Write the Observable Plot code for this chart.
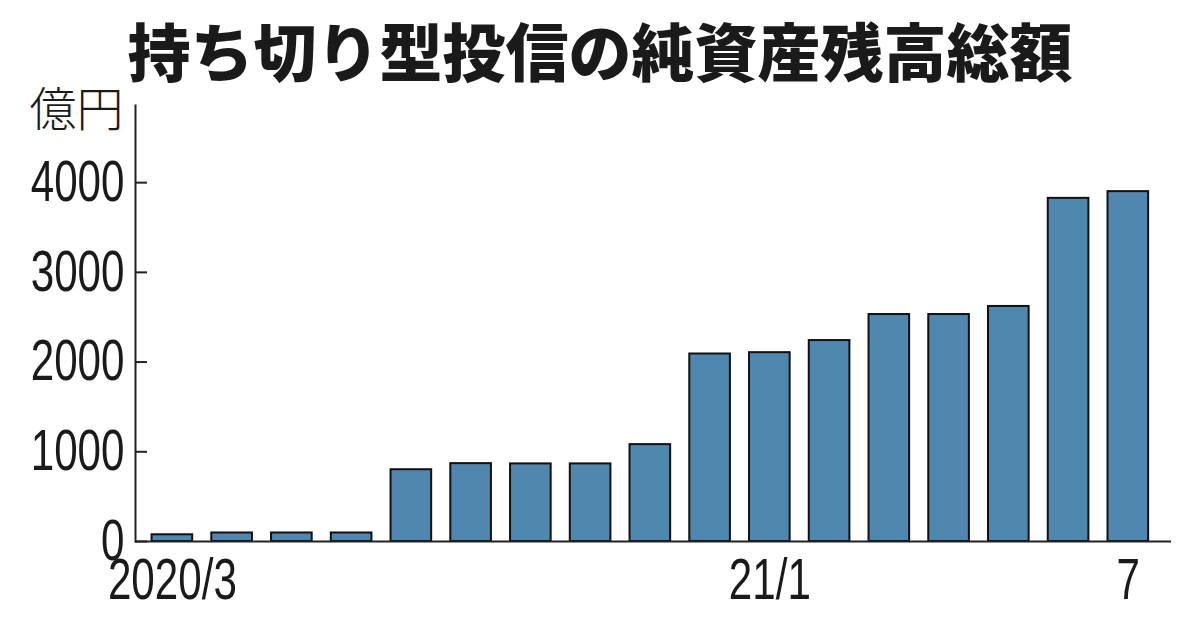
<!DOCTYPE html>
<html><head><meta charset="utf-8">
<script src="https://cdn.jsdelivr.net/npm/d3@7"></script>
<script src="https://cdn.jsdelivr.net/npm/@observablehq/plot@0.6"></script>
<style>
body{margin:0;background:#fff;width:1200px;height:630px;overflow:hidden;position:relative}
#title{position:absolute;left:0;top:17px;width:1200px;text-align:center;font-family:"Noto Sans CJK JP";font-weight:900;font-size:63px;line-height:63px;color:#1a1a1a;white-space:nowrap;z-index:2}
#chart{position:absolute;left:0;top:60px;z-index:1}
</style></head><body>
<div id="title"></div><div id="chart"></div>
<script>
const title = "持ち切り型投信の純資産残高総額";
const unit = "億円";
const months = ["2020-03","2020-04","2020-05","2020-06","2020-07","2020-08","2020-09","2020-10","2020-11","2020-12","2021-01","2021-02","2021-03","2021-04","2021-05","2021-06","2021-07"];
const values = [75, 95, 95, 95, 800, 868, 865, 865, 1080, 2090, 2105, 2240, 2530, 2530, 2620, 3825, 3900];
const yTicks = [0, 1000, 2000, 3000, 4000];
const xTickMonths = ["2020-03", "2021-01", "2021-07"];
const xTickLabels = ["2020/3", "21/1", "7"];

document.getElementById("title").textContent = title;
const data = months.map((m, i) => ({month: m, value: values[i]}));
const labelOf = new Map(xTickMonths.map((m, i) => [m, xTickLabels[i]]));
const numFont = '"Liberation Sans", Arimo, sans-serif';

const plot = Plot.plot({
  width: 1200, height: 570,
  marginLeft: 135, marginRight: 29, marginTop: 45, marginBottom: 89,
  style: {fontFamily: numFont, color: "#1a1a1a", background: "transparent"},
  x: {domain: months, paddingInner: 0.32, paddingOuter: 0.33, align: 0.42, round: false, label: null},
  y: {domain: [0, 4860], label: null},
  marks: [
    Plot.barY(data, {x: "month", y: "value", fill: "#4f87ae", stroke: "#111", strokeWidth: 2}),
    Plot.ruleY([0], {stroke: "#222", strokeWidth: 2}),
    Plot.frame({anchor: "left", stroke: "#222", strokeWidth: 2}),
    Plot.axisY({ticks: yTicks, tickSize: 12, dx: 12, text: null, stroke: "#222", strokeWidth: 2, label: null}),
    Plot.axisY({ticks: yTicks, tickSize: 0, tickPadding: 11, fontSize: 57, tickFormat: d => String(d), label: null}),
    Plot.axisX({ticks: xTickMonths, tickSize: 0, tickPadding: 17, fontSize: 57, tickFormat: d => labelOf.get(d), label: null}),
    Plot.text([unit], {frameAnchor: "top-left", lineAnchor: "middle", dx: -12, dy: 5, textAnchor: "end", fontSize: 47, fontFamily: "Noto Sans CJK JP", fontWeight: 300, fill: "#1a1a1a"})
  ]
});
document.getElementById("chart").appendChild(plot);

// condense the numeric tick labels horizontally around their anchor point
plot.querySelectorAll('g[aria-label="y-axis tick label"] text, g[aria-label="x-axis tick label"] text').forEach(el => {
  const x = (parseFloat(el.getAttribute("x")) || 0) + (parseFloat(el.getAttribute("dx")) || 0);
  const t = el.getAttribute("transform") || "";
  el.setAttribute("transform", `${t} translate(${x},0) scale(0.74,1) translate(${-x},0)`);
});
</script>
</body></html>
